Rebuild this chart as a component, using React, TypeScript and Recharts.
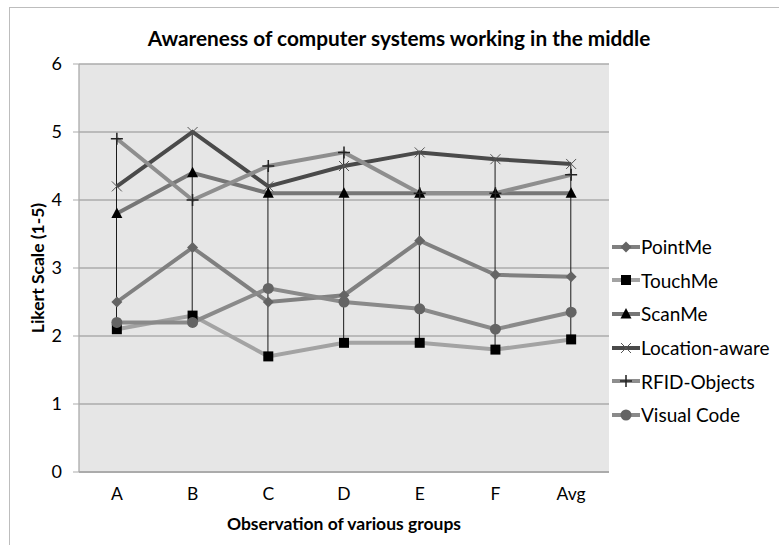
import React from "react";
import {
  ComposedChart,
  Line,
  Bar,
  XAxis,
  YAxis,
  CartesianGrid,
  Label,
} from "recharts";

const groups = ["A", "B", "C", "D", "E", "F", "Avg"];

const pointMe = [2.5, 3.3, 2.5, 2.6, 3.4, 2.9, 2.87];
const touchMe = [2.1, 2.3, 1.7, 1.9, 1.9, 1.8, 1.95];
const scanMe = [3.8, 4.4, 4.1, 4.1, 4.1, 4.1, 4.1];
const locationAware = [4.2, 5.0, 4.2, 4.5, 4.7, 4.6, 4.53];
const rfidObjects = [4.9, 4.0, 4.5, 4.7, 4.1, 4.1, 4.37];
const visualCode = [2.2, 2.2, 2.7, 2.5, 2.4, 2.1, 2.35];

const yTicks = [0, 1, 2, 3, 4, 5, 6];

const FONT = "Lato, 'Open Sans', sans-serif";

type Shape = "diamond" | "square" | "triangle" | "cross" | "plus" | "circle";

const SERIES: { key: string; name: string; values: number[]; color: string; shape: Shape; marker: string }[] = [
  { key: "pointMe", name: "PointMe", values: pointMe, color: "#808080", shape: "diamond", marker: "#646464" },
  { key: "touchMe", name: "TouchMe", values: touchMe, color: "#a3a3a3", shape: "square", marker: "#000000" },
  { key: "scanMe", name: "ScanMe", values: scanMe, color: "#767676", shape: "triangle", marker: "#000000" },
  { key: "locationAware", name: "Location-aware", values: locationAware, color: "#4a4a4a", shape: "cross", marker: "#555555" },
  { key: "rfidObjects", name: "RFID-Objects", values: rfidObjects, color: "#8e8e8e", shape: "plus", marker: "#222222" },
  { key: "visualCode", name: "Visual Code", values: visualCode, color: "#8a8a8a", shape: "circle", marker: "#646464" },
];

const data = groups.map((g, i) => {
  const row: Record<string, any> = { group: g };
  SERIES.forEach((s) => (row[s.key] = s.values[i]));
  const vals = SERIES.map((s) => s.values[i]);
  row.hiLo = [Math.min(...vals), Math.max(...vals)];
  return row;
});

function Marker({ shape, cx, cy, color }: { shape: Shape; cx: number; cy: number; color: string }) {
  switch (shape) {
    case "diamond":
      return <path d={`M${cx},${cy - 5.5}L${cx + 5.5},${cy}L${cx},${cy + 5.5}L${cx - 5.5},${cy}Z`} fill={color} />;
    case "square":
      return <rect x={cx - 5} y={cy - 5} width={10} height={10} fill={color} />;
    case "triangle":
      return <path d={`M${cx},${cy - 6}L${cx + 5.5},${cy + 4.5}L${cx - 5.5},${cy + 4.5}Z`} fill={color} />;
    case "cross":
      return (
        <path
          d={`M${cx - 5},${cy - 5}L${cx + 5},${cy + 5}M${cx + 5},${cy - 5}L${cx - 5},${cy + 5}`}
          stroke={color}
          strokeWidth={1}
          fill="none"
        />
      );
    case "plus":
      return (
        <path
          d={`M${cx - 6},${cy}L${cx + 6},${cy}M${cx},${cy - 6}L${cx},${cy + 6}`}
          stroke={color}
          strokeWidth={1.5}
          fill="none"
        />
      );
    case "circle":
      return <circle cx={cx} cy={cy} r={5.5} fill={color} />;
  }
}

function LegendBox() {
  return (
    <div style={{ position: "absolute", left: 611, top: 230, fontFamily: FONT, fontSize: 19, color: "#000" }}>
      {SERIES.map((s) => (
        <div key={s.key} style={{ display: "flex", alignItems: "center", height: 33.6 }}>
          <svg width={30} height={14} style={{ marginRight: 0 }}>
            <line x1={1} y1={7} x2={29} y2={7} stroke={s.color} strokeWidth={4} />
            <Marker shape={s.shape} cx={15} cy={7} color={s.marker} />
          </svg>
          <span>{s.name}</span>
        </div>
      ))}
    </div>
  );
}

export default function App() {
  return (
    <div
      style={{
        position: "absolute",
        left: 0,
        top: 0,
        width: 779,
        height: 545,
        background: "#fff",
        overflow: "hidden",
      }}
    >
      <div
        style={{
          position: "absolute",
          left: 9,
          top: 7,
          width: 820,
          height: 600,
          border: "1px solid #bdbdbd",
        }}
      />
      <div
        style={{
          position: "absolute",
          left: 0,
          width: 798,
          top: 24,
          textAlign: "center",
          fontFamily: FONT,
          fontWeight: 700,
          fontSize: 20.8,
          lineHeight: "28px",
          color: "#000",
        }}
      >
        Awareness of computer systems working in the middle
      </div>
      <div style={{ position: "absolute", left: 0, top: 0 }}>
        <ComposedChart
          width={779}
          height={545}
          data={data}
          margin={{ top: 64, right: 170, bottom: 0, left: 29 }}
        >
          <CartesianGrid vertical={false} fill="#e6e6e6" stroke="#ababab" strokeWidth={1.3} />
          <XAxis
            dataKey="group"
            height={73}
            tickLine={false}
            tickSize={0}
            tickMargin={16}
            axisLine={{ stroke: "#ababab", strokeWidth: 2 }}
            tick={{ fill: "#000", fontSize: 17.5, fontFamily: FONT }}
            interval={0}
          >
            <Label
              value="Observation of various groups"
              position="insideBottom"
              offset={15}
              style={{ fill: "#000", fontSize: 17.5, fontWeight: 700, fontFamily: FONT }}
            />
          </XAxis>
          <YAxis
            width={50}
            domain={[0, 6]}
            ticks={yTicks}
            tickSize={6}
            tickMargin={11}
            tickLine={{ stroke: "#ababab" }}
            axisLine={{ stroke: "#ababab", strokeWidth: 1.3 }}
            tick={{ fill: "#000", fontSize: 18, fontFamily: FONT }}
            interval={0}
          >
            <Label
              value="Likert Scale (1-5)"
              angle={-90}
              position="insideLeft"
              offset={9}
              style={{ fill: "#000", fontSize: 17.5, fontWeight: 700, fontFamily: FONT, textAnchor: "middle" }}
            />
          </YAxis>
          <Bar dataKey="hiLo" barSize={1} fill="#1a1a1a" isAnimationActive={false} legendType="none" />
          {SERIES.map((s) => (
            <Line
              key={s.key}
              dataKey={s.key}
              name={s.name}
              stroke={s.color}
              strokeWidth={4}
              isAnimationActive={false}
              dot={(p: any) => (
                <Marker key={`${s.key}-${p.index}`} shape={s.shape} cx={p.cx} cy={p.cy} color={s.marker} />
              )}
              activeDot={false}
            />
          ))}
        </ComposedChart>
      </div>
      <LegendBox />
    </div>
  );
}
